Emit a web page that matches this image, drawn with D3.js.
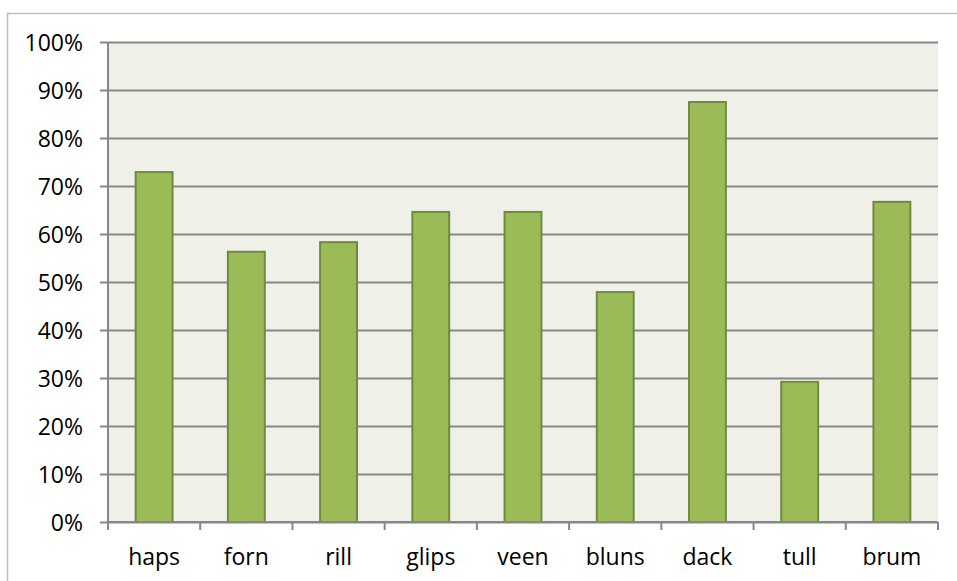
<!DOCTYPE html>
<html>
<head>
<meta charset="utf-8">
<script src="https://cdn.jsdelivr.net/npm/d3@7"></script>
<style>
  body { margin: 0; background: #fff; }
  svg text { font-family: "Open Sans", "Noto Sans", sans-serif; fill: #000; }
</style>
</head>
<body>
<script>
// chart values
var categories = ["haps", "forn", "rill", "glips", "veen", "bluns", "dack", "tull", "brum"];
var values = [72.9, 56.3, 58.3, 64.6, 64.6, 47.9, 87.5, 29.2, 66.7];
var yTicks = [0, 10, 20, 30, 40, 50, 60, 70, 80, 90, 100];

var width = 957, height = 581;
var plot = {left: 108, top: 42, right: 938, bottom: 522};

var svg = d3.select("body").append("svg")
    .attr("width", width)
    .attr("height", height);

// outer chart frame (only top and left show)
svg.append("path")
  .attr("d", "M7.5," + height + "V13.5H" + width)
  .attr("fill", "none")
  .attr("stroke", "#bfbfbf")
  .attr("stroke-width", 1.5);

var x = d3.scaleBand()
  .domain(categories)
  .range([plot.left, plot.right])
  .padding(0);

var y = d3.scaleLinear()
  .domain([0, 100])
  .range([plot.bottom, plot.top]);

// plot background
svg.append("rect")
  .attr("x", plot.left)
  .attr("y", plot.top)
  .attr("width", plot.right - plot.left)
  .attr("height", plot.bottom - plot.top)
  .attr("fill", "#eff1e8");

// gridlines + y axis ticks
var yAxis = svg.append("g")
  .attr("class", "y axis")
  .attr("transform", "translate(" + plot.left + ",0)")
  .call(d3.axisLeft(y)
    .tickValues(yTicks)
    .tickSize(8)
    .tickPadding(17)
    .tickFormat(function(d) { return d + "%"; }));

yAxis.select(".domain").remove();
yAxis.selectAll(".tick line")
  .attr("stroke", "#878787")
  .attr("stroke-width", 2)
  .attr("x2", -8);
yAxis.selectAll(".tick")
  .append("line")
    .attr("x1", 0)
    .attr("x2", plot.right - plot.left)
    .attr("stroke", "#878787")
    .attr("stroke-width", 2);
yAxis.selectAll(".tick text")
  .attr("font-size", 23)
  .attr("dy", "0.36em");

// bars
var barW = x.bandwidth() * 0.4;
svg.append("g").selectAll("rect")
  .data(values)
  .enter()
    .append("rect")
      .attr("x", function(d, i) { return x(categories[i]) + (x.bandwidth() - barW) / 2; })
      .attr("y", function(d) { return y(d); })
      .attr("width", barW)
      .attr("height", function(d) { return y(0) - y(d); })
      .attr("fill", "#9bbb59")
      .attr("stroke", "#71893f")
      .attr("stroke-width", 2);

// y axis line
svg.append("line")
  .attr("x1", plot.left).attr("x2", plot.left)
  .attr("y1", plot.top).attr("y2", plot.bottom)
  .attr("stroke", "#878787")
  .attr("stroke-width", 2);

// x axis: boundary ticks between categories
var bounds = categories.map(function(c) { return x(c); }).concat([plot.right]);
svg.append("g").selectAll("line")
  .data(bounds)
  .enter()
    .append("line")
      .attr("x1", function(d) { return d; })
      .attr("x2", function(d) { return d; })
      .attr("y1", plot.bottom)
      .attr("y2", plot.bottom + 8)
      .attr("stroke", "#878787")
      .attr("stroke-width", 2);

svg.append("line")
  .attr("x1", plot.left).attr("x2", plot.right)
  .attr("y1", plot.bottom).attr("y2", plot.bottom)
  .attr("stroke", "#878787")
  .attr("stroke-width", 2);

svg.append("g").selectAll("text")
  .data(categories)
  .enter()
    .append("text")
      .attr("x", function(d) { return x(d) + x.bandwidth() / 2; })
      .attr("y", 565)
      .attr("text-anchor", "middle")
      .attr("font-size", 23)
      .text(function(d) { return d; });
</script>
</body>
</html>
